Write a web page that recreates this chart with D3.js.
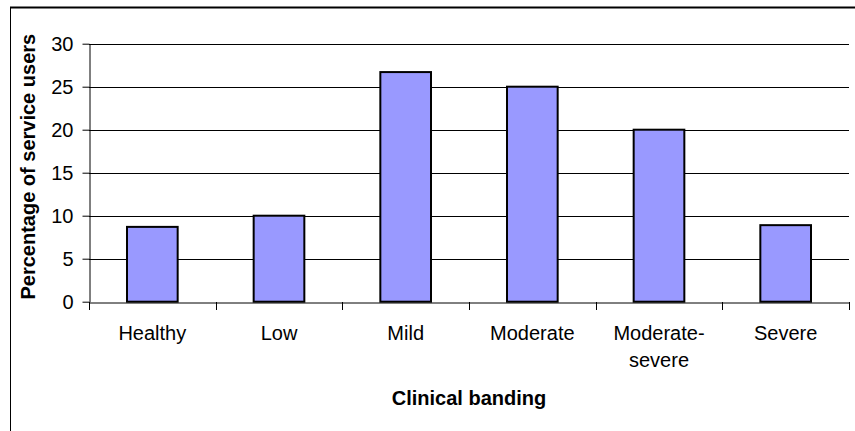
<!DOCTYPE html>
<html>
<head>
<meta charset="utf-8">
<script src="https://cdn.jsdelivr.net/npm/d3@7"></script>
<style>
  html, body { margin: 0; padding: 0; background: #fff; }
  svg { display: block; font-family: Arial, "Liberation Sans", sans-serif; }
</style>
</head>
<body>
<svg id="chart" width="855" height="431"></svg>
<script>
// Share of service users in each clinical band
const categories = ["Healthy", "Low", "Mild", "Moderate", "Moderate-severe", "Severe"];
const categoryLines = [["Healthy"], ["Low"], ["Mild"], ["Moderate"], ["Moderate-", "severe"], ["Severe"]];
const percentages = [8.7, 10, 26.7, 25, 20, 8.9];
const yTicks = [0, 5, 10, 15, 20, 25, 30];

const svg = d3.select("#chart");
const W = 855, H = 431;
const plot = { left: 89, right: 849, top: 43.7, bottom: 301.7 };
const FONT = "Arial, 'Liberation Sans', sans-serif";

// outer frame (top and left edges)
svg.append("line").attr("x1", 10).attr("x2", W).attr("y1", 7.5).attr("y2", 7.5)
  .attr("stroke", "#000").attr("stroke-width", 2);
svg.append("line").attr("x1", 10.5).attr("x2", 10.5).attr("y1", 7).attr("y2", H)
  .attr("stroke", "#000").attr("stroke-width", 1);

const x = d3.scaleBand().domain(categories).range([plot.left, plot.right]).padding(0);
const y = d3.scaleLinear().domain([0, 30]).range([plot.bottom, plot.top]);

// horizontal gridlines
svg.append("g").selectAll("line").data(yTicks.filter(d => d > 0)).join("line")
  .attr("x1", plot.left).attr("x2", plot.right)
  .attr("y1", d => Math.round(y(d)) + 0.5).attr("y2", d => Math.round(y(d)) + 0.5)
  .attr("stroke", "#000").attr("stroke-width", 1);

// bars
const barFrac = 0.4;
svg.append("g").selectAll("rect").data(categories).join("rect")
  .attr("x", d => x(d) + x.bandwidth() * (1 - barFrac) / 2)
  .attr("width", x.bandwidth() * barFrac)
  .attr("y", (d, i) => y(percentages[i]))
  .attr("height", (d, i) => y(0) - y(percentages[i]))
  .attr("fill", "#9999FF")
  .attr("stroke", "#000")
  .attr("stroke-width", 2);

// y axis
const yAxis = svg.append("g")
  .attr("transform", `translate(${plot.left + 0.5},0)`)
  .call(d3.axisLeft(y).tickValues(yTicks).tickSize(7).tickSizeOuter(0).tickPadding(9));
yAxis.attr("font-size", null).attr("font-family", null);
yAxis.select(".domain").attr("stroke", "#000");
yAxis.selectAll(".tick line").attr("stroke", "#000");
yAxis.selectAll(".tick text")
  .style("font-size", "20px")
  .style("font-family", FONT)
  .attr("fill", "#000");

// x axis
const xAxis = svg.append("g")
  .attr("transform", `translate(0,${Math.round(plot.bottom) + 0.5})`)
  .call(d3.axisBottom(x).tickSize(0).tickFormat(""));
xAxis.select(".domain").attr("stroke", "#000");
xAxis.selectAll(".tick").remove();

// category boundary ticks
const boundaries = categories.map(c => x(c)).concat([plot.right]);
svg.append("g").selectAll("line").data(boundaries).join("line")
  .attr("x1", d => Math.round(d) + 0.5).attr("x2", d => Math.round(d) + 0.5)
  .attr("y1", Math.round(plot.bottom)).attr("y2", Math.round(plot.bottom) + 8)
  .attr("stroke", "#000");

// category labels
const catText = svg.append("g").selectAll("text").data(categories).join("text")
  .attr("x", d => x(d) + x.bandwidth() / 2)
  .attr("y", 340)
  .attr("text-anchor", "middle")
  .style("font-size", "20px")
  .style("font-family", FONT)
  .attr("fill", "#000");
catText.each(function(d, i) {
  const t = d3.select(this);
  categoryLines[i].forEach((ln, j) => {
    t.append("tspan").attr("x", x(d) + x.bandwidth() / 2).attr("dy", j === 0 ? 0 : 27).text(ln);
  });
});

// axis titles
svg.append("text")
  .attr("x", 469).attr("y", 405)
  .attr("text-anchor", "middle")
  .style("font-size", "20px").attr("font-weight", "bold")
  .style("font-family", FONT)
  .attr("fill", "#000")
  .text("Clinical banding");

svg.append("text")
  .attr("transform", `translate(35,${(plot.top + plot.bottom) / 2 - 6}) rotate(-90)`)
  .attr("text-anchor", "middle")
  .style("font-size", "20px").attr("font-weight", "bold")
  .style("font-family", FONT)
  .attr("fill", "#000")
  .text("Percentage of service users");
</script>
</body>
</html>
